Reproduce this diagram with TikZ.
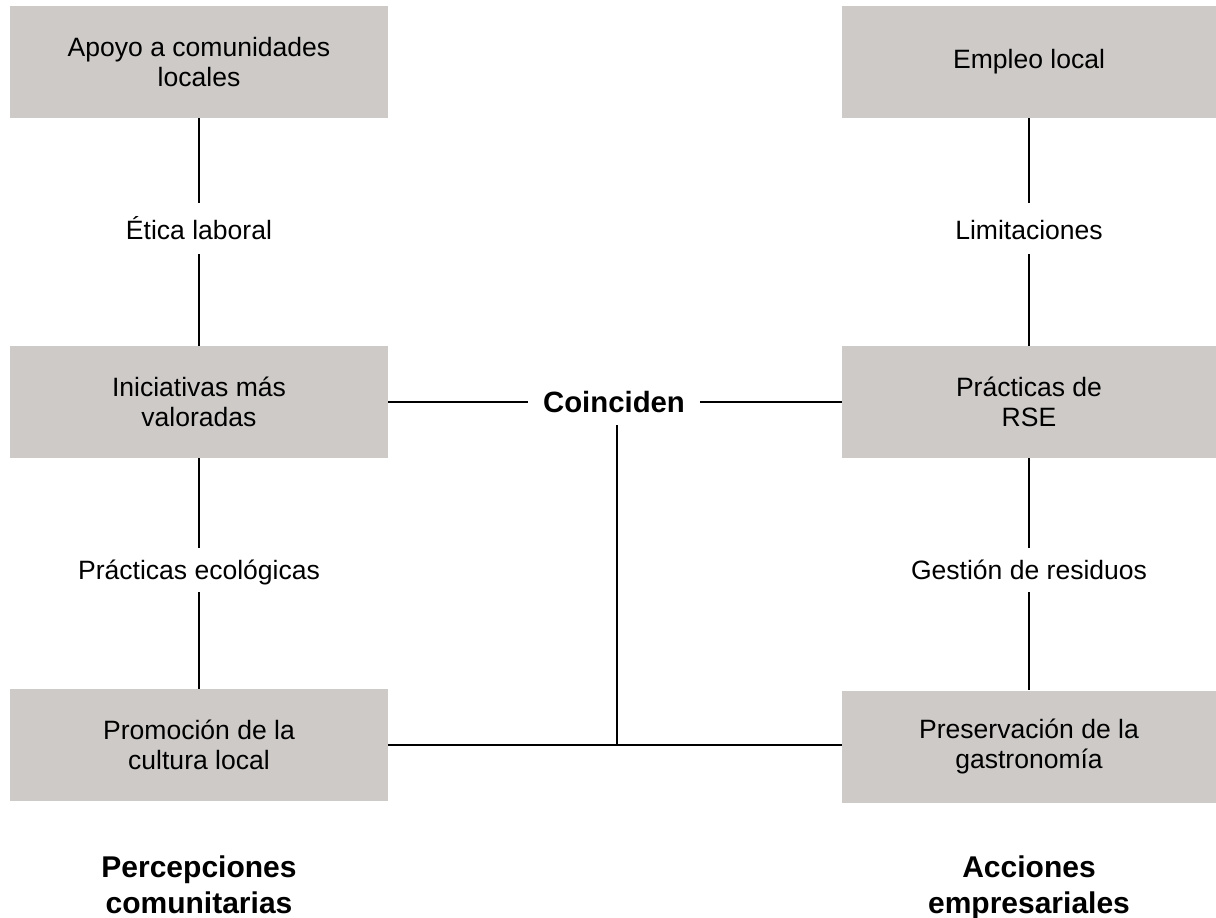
\documentclass[tikz,border=0pt]{standalone}
\usepackage{fontspec}
\setmainfont{Liberation Sans}
\definecolor{boxgray}{RGB}{205,202,200}
\tikzset{
  box/.style={fill=boxgray, draw=none, minimum height=84pt, align=center, inner sep=0pt,
    font=\fontsize{19.9pt}{22.5pt}\selectfont},
  lbox/.style={box, minimum width=283.5pt},
  rbox/.style={box, minimum width=280.5pt},
  elabel/.style={fill=white, inner xsep=2pt, inner ysep=9.1pt, text height=17.9pt, text depth=2.1pt,
    font=\fontsize{19.9pt}{22.5pt}\selectfont},
  elabelb/.style={elabel, inner ysep=6.5pt, text height=16.75pt, text depth=3.25pt},
  conn/.style={draw=black, line width=1.6pt},
  title/.style={anchor=base, font=\bfseries\fontsize{22.5pt}{27.75pt}\selectfont},
}
\begin{document}
\begin{tikzpicture}[x=0.75pt, y=-0.75pt]
\useasboundingbox (0,0) rectangle (1216,917);
% left column
\node[lbox] (l1) at (199,62) {Apoyo a comunidades\\locales};
\node[lbox] (l2) at (199,402) {Iniciativas más\\valoradas};
\node[lbox] (l3) at (199,745) {Promoción de la\\cultura local};
% right column
\node[rbox] (r1) at (1029,62) {Empleo local};
\node[rbox] (r2) at (1029,402) {Prácticas de\\RSE};
\node[rbox] (r3) at (1029,746.5) {Preservación de la\\gastronomía};
% edge labels
\node[elabel] (le1) at (199,228.5) {Ética laboral};
\node[elabelb] (le2) at (199,570) {Prácticas ecológicas};
\node[elabel] (re1) at (1029,228.5) {Limitaciones};
\node[elabelb] (re2) at (1029,570) {Gestión de residuos};
% center
\node[font=\bfseries\fontsize{22pt}{26pt}\selectfont, inner xsep=11pt, inner ysep=0pt,
      text height=16pt, text depth=1pt, minimum height=34.5pt] (co) at (614,402) {Coinciden};
\coordinate (jn) at (617,745);
% titles
\node[title] (tl) at (199,877) {Percepciones};
\node[title] (tl2) at (199,913) {comunitarias};
\node[title] (tr) at (1029,877) {Acciones};
\node[title] (tr2) at (1029,913) {empresariales};
% connectors
\draw[conn] (l1.south) -- (le1.north);
\draw[conn] (le1.south) -- (l2.north);
\draw[conn] (l2.south) -- (le2.north);
\draw[conn] (le2.south) -- (l3.north);
\draw[conn] (r1.south) -- (re1.north);
\draw[conn] (re1.south) -- (r2.north);
\draw[conn] (r2.south) -- (re2.north);
\draw[conn] (re2.south) -- (r3.north);
\draw[conn] (l2.east) -- (co.west);
\draw[conn] (co.east) -- (r2.west);
\draw[conn] (l3.east) -- (l3.east -| r3.west);
\draw[conn] (co.south -| jn) -- (jn);
\end{tikzpicture}
\end{document}
